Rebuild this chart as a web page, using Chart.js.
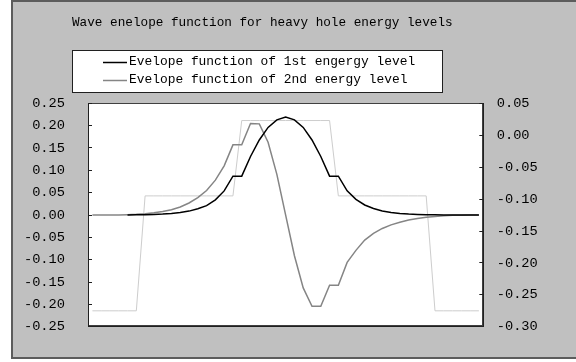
<!DOCTYPE html>
<html><head><meta charset="utf-8">
<script src="https://cdn.jsdelivr.net/npm/chart.js@4"></script>
<style>html,body{margin:0;padding:0;background:#fff;}canvas{display:block;}</style>
</head><body>
<canvas id="c" width="576" height="362"></canvas>
<script>
const chartTitle = 'Wave enelope function for heavy hole energy levels';
const seriesNames = ['Evelope function of 1st engergy level', 'Evelope function of 2nd energy level', 'Potential profile'];
const categories = [1,2,3,4,5,6,7,8,9,10,11,12,13,14,15,16,17,18,19,20,21,22,23,24,25,26,27,28,29,30,31,32,33,34,35,36,37,38,39,40,41,42,43,44,45];
const level1 = [null,null,null,null,0.0002,0.0005,0.0009,0.0014,0.0022,0.0035,0.0055,0.0088,0.014,0.021,0.034,0.054,0.087,
  0.087,0.131,0.168,0.196,0.213,0.219,0.213,0.196,0.168,0.131,0.087,
  0.087,0.054,0.035,0.0225,0.0145,0.0092,0.0057,0.0036,0.0022,0.0013,0.0008,0.0004,0.0002,0.0001,0,0,0];
const level2 = [0,0,0.0001,0.0003,0.0007,0.0015,0.003,0.005,0.008,0.012,0.018,0.027,0.039,0.055,0.078,0.110,0.157,
  0.157,0.205,0.204,0.163,0.091,0,-0.091,-0.163,-0.204,-0.204,-0.157,
  -0.157,-0.106,-0.079,-0.056,-0.041,-0.030,-0.022,-0.016,-0.011,-0.0075,-0.005,-0.003,-0.0015,-0.0007,-0.0003,-0.0001,0];
const potential = [-0.275,-0.275,-0.275,-0.275,-0.275,-0.275,
  -0.095,-0.095,-0.095,-0.095,-0.095,-0.095,-0.095,-0.095,-0.095,-0.095,-0.095,
  0.023,0.023,0.023,0.023,0.023,0.023,0.023,0.023,0.023,0.023,0.023,
  -0.095,-0.095,-0.095,-0.095,-0.095,-0.095,-0.095,-0.095,-0.095,-0.095,-0.095,
  -0.275,-0.275,-0.275,-0.275,-0.275,-0.275];
const leftTicks = [0.25,0.20,0.15,0.10,0.05,0.00,-0.05,-0.10,-0.15,-0.20,-0.25];
const rightTicks = [0.05,0.00,-0.05,-0.10,-0.15,-0.20,-0.25,-0.30];

const MONO = '"Liberation Mono", "DejaVu Sans Mono", monospace';

const frame = {
  id: 'frame',
  beforeDraw(chart) {
    const ctx = chart.ctx, a = chart.chartArea;
    ctx.save();
    ctx.fillStyle = '#ffffff';
    ctx.fillRect(0, 0, chart.width, chart.height);
    ctx.fillStyle = '#5c5c5c';
    ctx.fillRect(11, 0, chart.width - 11, 359);
    ctx.fillStyle = '#c0c0c0';
    ctx.fillRect(13, 2, chart.width - 13, 355);
    ctx.fillStyle = '#ffffff';
    ctx.fillRect(a.left, a.top, a.right - a.left, a.bottom - a.top);
    ctx.strokeStyle = '#404040';
    ctx.lineWidth = 1;
    ctx.strokeRect(Math.round(a.left) + 0.5, Math.round(a.top) + 0.5, Math.round(a.right - a.left) - 1, Math.round(a.bottom - a.top) - 1);
    ctx.restore();
  }
};

const headerAndLegend = {
  id: 'headerAndLegend',
  afterDraw(chart, args, o) {
    const ctx = chart.ctx;
    ctx.save();
    ctx.fillStyle = '#000000';
    ctx.font = o.titleFont;
    ctx.textBaseline = 'middle';
    ctx.textAlign = 'left';
    ctx.fillText(o.title, o.titleX, o.titleY);
    ctx.fillStyle = '#ffffff';
    ctx.fillRect(o.x, o.y, o.w, o.h);
    ctx.strokeStyle = '#202020';
    ctx.lineWidth = 1;
    ctx.strokeRect(o.x + 0.5, o.y + 0.5, o.w - 1, o.h - 1);
    ctx.font = o.font;
    chart.data.datasets.filter(d => !d.hideInLegend).forEach((d, k) => {
      const y = o.firstY + k * o.rowGap;
      ctx.strokeStyle = d.borderColor;
      ctx.lineWidth = d.borderWidth;
      ctx.beginPath();
      ctx.moveTo(o.lineX, y + 0.5);
      ctx.lineTo(o.lineX + o.lineW, y + 0.5);
      ctx.stroke();
      ctx.fillStyle = '#000000';
      ctx.fillText(d.label, o.textX, y);
    });
    ctx.restore();
  }
};

new Chart(document.getElementById('c'), {
  type: 'line',
  data: {
    labels: categories,
    datasets: [
      { label: seriesNames[0], data: level1, yAxisID: 'y', borderColor: '#000000', borderWidth: 1.5, pointRadius: 0, tension: 0, fill: false },
      { label: seriesNames[1], data: level2, yAxisID: 'y', borderColor: '#858585', borderWidth: 1.5, pointRadius: 0, tension: 0, fill: false },
      { label: seriesNames[2], data: potential, yAxisID: 'y1', borderColor: '#cdcdcd', borderWidth: 1, pointRadius: 0, tension: 0, fill: false, hideInLegend: true }
    ]
  },
  options: {
    responsive: false,
    animation: false,
    devicePixelRatio: 1,
    layout: { padding: { left: 0, right: 0, top: 103.3, bottom: 0 } },
    plugins: {
      legend: { display: false },
      tooltip: { enabled: false },
      title: { display: false },
      headerAndLegend: {
        title: chartTitle,
        titleX: 72, titleY: 22.7,
        titleFont: '12.7px ' + MONO,
        x: 72, y: 50, w: 371, h: 43,
        firstY: 62, rowGap: 18,
        lineX: 103, lineW: 24, textX: 129,
        font: '12.9px ' + MONO
      }
    },
    scales: {
      x: {
        type: 'category',
        offset: true,
        ticks: { display: false },
        grid: { display: false },
        border: { display: true, color: '#202020', width: 1 },
        afterFit: s => { s.height = 24.7; }
      },
      y: {
        position: 'left',
        min: -0.25, max: 0.25,
        afterBuildTicks: s => { s.ticks = leftTicks.map(v => ({ value: v })); },
        afterFit: s => { s.width = 88; },
        ticks: {
          padding: 27,
          color: '#000000',
          font: { family: MONO, size: 13.7 },
          callback: v => Number(v).toFixed(2)
        },
        grid: { drawOnChartArea: false, drawTicks: true, tickLength: -4, color: '#202020' },
        border: { display: true, color: '#202020', width: 1 }
      },
      y1: {
        position: 'right',
        min: -0.30, max: 0.05,
        afterBuildTicks: s => { s.ticks = rightTicks.map(v => ({ value: v })); },
        afterFit: s => { s.width = 92.7; },
        ticks: {
          padding: 17.4,
          color: '#000000',
          font: { family: MONO, size: 13.7 },
          callback: v => Number(v).toFixed(2)
        },
        grid: { drawOnChartArea: false, drawTicks: true, tickLength: -4, color: '#202020' },
        border: { display: true, color: '#202020', width: 1 }
      }
    }
  },
  plugins: [frame, headerAndLegend]
});
</script>
</body></html>
